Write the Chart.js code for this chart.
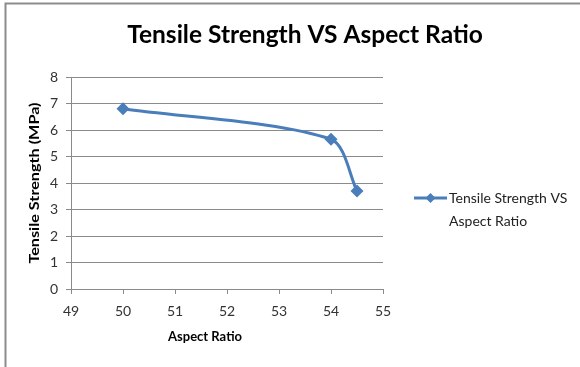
<!DOCTYPE html>
<html>
<head>
<meta charset="utf-8">
<script src="https://cdn.jsdelivr.net/npm/chart.js@4/dist/chart.umd.min.js"></script>
<style>
  html, body { margin: 0; padding: 0; background: #ffffff; }
  #wrap { width: 580px; height: 367px; position: relative; }
</style>
</head>
<body>
<div id="wrap"><canvas id="chart" width="580" height="367"></canvas></div>
<script>
// Aspect ratio (x) and measured tensile strength (y)
const aspectRatio = [50, 54, 54.5];
const tensileStrength = [6.8, 5.65, 3.7];

// Axis tick ranges
const xTicks = [49, 50, 51, 52, 53, 54, 55];
const yTicks = [0, 1, 2, 3, 4, 5, 6, 7, 8];

// Text
const chartTitle = 'Tensile Strength VS Aspect Ratio';
const xTitle = 'Aspect Ratio';
const yTitle = 'Tensile Strength (MPa)';
const seriesLabel = ['Tensile Strength VS', 'Aspect Ratio'];

const BLUE = '#4A7EBB';
const GRID = '#8a8a8a';
const FONT = 'Lato, "Open Sans", sans-serif';

// Frame lines, title, axis titles and legend
const decorations = {
  id: 'decorations',
  beforeDraw(chart) {
    const ctx = chart.ctx;
    ctx.save();
    ctx.strokeStyle = '#8c8c8c';
    ctx.lineWidth = 2;
    ctx.beginPath();
    ctx.moveTo(5.5, 367);
    ctx.lineTo(5.5, 3.5);
    ctx.lineTo(580, 3.5);
    ctx.stroke();
    ctx.restore();
  },
  afterDraw(chart) {
    const ctx = chart.ctx;
    const area = chart.chartArea;
    ctx.save();
    ctx.fillStyle = '#000';
    ctx.textAlign = 'center';
    ctx.textBaseline = 'alphabetic';
    ctx.font = 'bold 24.5px ' + FONT;
    ctx.fillText(chartTitle, 305, 43);

    ctx.textBaseline = 'middle';
    ctx.font = 'bold 13px ' + FONT;
    ctx.fillText(xTitle, 205, 337);

    ctx.save();
    ctx.translate(35, (area.top + area.bottom) / 2);
    ctx.scale(1, 1.2);
    ctx.rotate(-Math.PI / 2);
    ctx.font = 'bold 13.5px ' + FONT;
    ctx.fillText(yTitle, 0, 0);
    ctx.restore();

    // legend
    const ds = chart.data.datasets[0];
    const ly = 198;
    ctx.strokeStyle = ds.borderColor;
    ctx.lineWidth = 3;
    ctx.beginPath();
    ctx.moveTo(414, ly);
    ctx.lineTo(447, ly);
    ctx.stroke();
    ctx.fillStyle = ds.backgroundColor;
    ctx.beginPath();
    const cx = 430.5, r = 5;
    ctx.moveTo(cx, ly - r);
    ctx.lineTo(cx + r, ly);
    ctx.lineTo(cx, ly + r);
    ctx.lineTo(cx - r, ly);
    ctx.closePath();
    ctx.fill();

    ctx.fillStyle = '#222';
    ctx.textAlign = 'left';
    ctx.font = '14px ' + FONT;
    seriesLabel.forEach((line, i) => ctx.fillText(line, 449, ly + i * 23));
    ctx.restore();
  }
};

new Chart(document.getElementById('chart'), {
  type: 'scatter',
  data: {
    datasets: [{
      label: seriesLabel.join(' '),
      data: aspectRatio.map((x, i) => ({ x: x, y: tensileStrength[i] })),
      showLine: true,
      borderColor: BLUE,
      backgroundColor: BLUE,
      borderWidth: 3,
      tension: 0.28,
      pointStyle: 'rectRot',
      pointRadius: 6.5,
      pointBorderWidth: 0,
      pointBackgroundColor: BLUE
    }]
  },
  options: {
    responsive: false,
    animation: false,
    layout: { padding: { top: 77, right: 197, left: 0, bottom: 0 } },
    plugins: {
      legend: { display: false },
      title: { display: false },
      tooltip: { enabled: false }
    },
    scales: {
      x: {
        type: 'linear',
        min: xTicks[0],
        max: xTicks[xTicks.length - 1],
        afterFit(scale) { scale.height = 78; },
        afterBuildTicks(scale) { scale.ticks = xTicks.map(v => ({ value: v })); },
        border: { display: true, color: GRID, width: 1 },
        grid: { display: true, drawOnChartArea: false, drawTicks: true, tickLength: 5, color: GRID },
        ticks: { color: '#333', font: { family: FONT, size: 14 }, padding: 9 }
      },
      y: {
        min: yTicks[0],
        max: yTicks[yTicks.length - 1],
        afterFit(scale) { scale.width = 71; },
        afterBuildTicks(scale) { scale.ticks = yTicks.map(v => ({ value: v })); },
        border: { display: true, color: GRID, width: 1 },
        grid: { display: true, drawOnChartArea: true, drawTicks: true, tickLength: 5, color: GRID },
        ticks: { color: '#333', font: { family: FONT, size: 14 }, padding: 8 }
      }
    }
  },
  plugins: [decorations]
});
</script>
</body>
</html>
